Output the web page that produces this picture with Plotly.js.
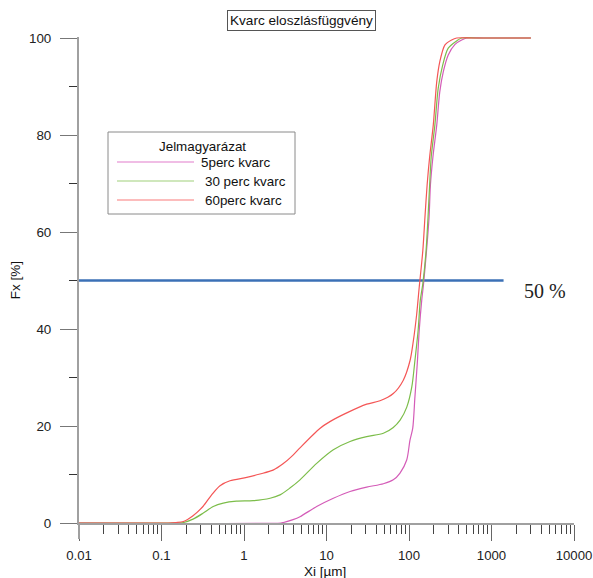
<!DOCTYPE html>
<html>
<head>
<meta charset="utf-8">
<script src="https://cdn.plot.ly/plotly-3.0.1.min.js"></script>
<style>
  html, body { margin: 0; padding: 0; background: #fff; }
  #chart { width: 593px; height: 578px; }
</style>
</head>
<body>
<div id="chart"></div>
<script>
// Particle size distribution (cumulative) of quartz after different milling times
const seriesNames = ['5perc kvarc', '30 perc kvarc', '60perc kvarc'];

// 5 min milling
const x5 = [0.01, 2.8, 3.0, 3.93, 4.77, 7.6, 12.1, 19.3, 30.7, 48.9, 64.5, 77.8, 93.8, 102.8, 110.9, 118, 126, 133, 142.6, 150, 163, 175, 182, 195, 217, 236, 261, 299, 361, 435, 501, 800, 1500, 3000];
const y5 = [0, 0, 0.1, 0.7, 1.3, 3.4, 5.1, 6.5, 7.4, 8.1, 8.9, 10.3, 13.0, 17.1, 19.5, 26, 32.9, 39.7, 45.9, 49.3, 56.1, 63, 69.8, 75.5, 82.1, 88.9, 93.1, 96.5, 98.7, 99.6, 100, 100, 100, 100];

// 30 min milling
const x30 = [0.01, 0.127, 0.184, 0.241, 0.318, 0.424, 0.56, 0.81, 1.29, 2.07, 2.73, 3.6, 4.77, 7.6, 12.1, 19.3, 30.7, 48.9, 64.5, 78, 94, 108, 118, 129, 137, 147, 161, 170, 178, 186, 206, 226, 256, 299, 378, 435, 700, 1500, 3000];
const y30 = [0, 0, 0.1, 0.8, 2.0, 3.4, 4.1, 4.5, 4.6, 5.1, 5.8, 7.2, 8.9, 12.3, 15.1, 16.8, 17.8, 18.5, 19.7, 21.2, 23.9, 28, 33.5, 39.7, 45.9, 49.3, 56.1, 63, 69.8, 75.5, 82.1, 89.6, 94.4, 97.9, 99.4, 100, 100, 100, 100];

// 60 min milling
const x60 = [0.01, 0.12, 0.15, 0.184, 0.241, 0.318, 0.405, 0.512, 0.676, 1.08, 1.56, 2.25, 2.97, 3.93, 4.77, 8.3, 11, 17.6, 30.7, 44.5, 64.5, 85, 103, 113, 124, 133, 147, 156, 166, 178, 197, 217, 236, 273, 329, 378, 600, 1500, 3000];
const y60 = [0, 0, 0.1, 0.3, 1.5, 3.4, 5.8, 7.7, 8.7, 9.4, 10.1, 10.9, 12.2, 14.0, 15.5, 19.5, 20.9, 22.7, 24.5, 25.2, 26.7, 29.4, 33.5, 37.6, 43.1, 48.6, 56.1, 63, 69.8, 75.5, 82.1, 91, 95.1, 98.6, 99.6, 100, 100, 100, 100];

// 50 % reference level
const refLevel = 50;
const refX = [0.01, 1400];

// axis ticks
const xTickVals = [0.01, 0.1, 1, 10, 100, 1000, 10000];
const xTickText = ['0.01', '0.1', '1', '10', '100', '1000', '10000'];
const yTickVals = [0, 20, 40, 60, 80, 100];

const colors = ['#d45cb8', '#7cbd4a', '#f45656'];
const legendColors = ['#e27ccb', '#9fd07a', '#fa7b7b'];

// minor ticks 2..9 within each decade
const xMinor = [];
for (let d = -2; d < 4; d++) {
  for (let m = 2; m <= 9; m++) xMinor.push(m * Math.pow(10, d));
}

// plot area in pixels: x 79..574, y 37..523 (100 % sits at y = 38, leaving room for the 100 % plateau line)
const L = 79, R = 574, T = 37, B = 523;
const yTop = 100 * (B - T) / (B - 38);
const px = p => (p - L) / (R - L);
const py = p => (B - p) / (B - T);

const font = 'Arial, "Liberation Sans", sans-serif';

const curve = (x, y, i) => ({
  x: x, y: y, type: 'scatter', mode: 'lines', name: seriesNames[i],
  line: { color: colors[i], width: 1.2, shape: 'spline', smoothing: 0.8 },
  hoverinfo: 'skip', showlegend: false
});

const traces = [
  { x: refX, y: [refLevel, refLevel], type: 'scatter', mode: 'lines',
    line: { color: '#3b70b6', width: 2.5 }, hoverinfo: 'skip', showlegend: false },
  curve(x5, y5, 0),
  curve(x30, y30, 1),
  curve(x60, y60, 2)
];

const annotations = [
  { text: 'Kvarc eloszlásfüggvény', xref: 'paper', yref: 'paper', x: px(301), y: py(21),
    xanchor: 'center', yanchor: 'middle', showarrow: false,
    font: { family: font, size: 13.6, color: '#111' },
    bordercolor: '#555', borderwidth: 1, borderpad: 2, bgcolor: '#fff' },
  { text: 'Jelmagyarázat', xref: 'paper', yref: 'paper', x: px(202), y: py(146),
    xanchor: 'center', yanchor: 'middle', showarrow: false,
    font: { family: font, size: 13.4, color: '#111' } },
  { text: refLevel + ' %', xref: 'paper', yref: 'paper', x: px(522), y: py(291),
    xanchor: 'left', yanchor: 'middle', showarrow: false,
    font: { family: '"Liberation Serif", "Times New Roman", serif', size: 20, color: '#222' } },
  { text: 'Xi [µm]', xref: 'paper', yref: 'paper', x: px(325), y: py(571),
    xanchor: 'center', yanchor: 'middle', showarrow: false,
    font: { family: font, size: 13.5, color: '#111' } }
];

const legendRows = [162, 181, 200];
const legendTextX = [199, 203, 203];
const shapes = [
  { type: 'rect', xref: 'paper', yref: 'paper', x0: px(108), x1: px(295), y0: py(132), y1: py(214),
    line: { color: '#8a8a8a', width: 1 }, fillcolor: 'rgba(255,255,255,0)' },
  // y axis line continues below zero, as far as the x ticks
  { type: 'line', xref: 'paper', yref: 'paper', x0: 0, x1: 0, y0: 0, y1: py(539),
    line: { color: '#a0a0a0', width: 2 } }
];
seriesNames.forEach((name, i) => {
  shapes.push({ type: 'line', xref: 'paper', yref: 'paper', x0: px(117), x1: px(194),
    y0: py(legendRows[i]), y1: py(legendRows[i]), line: { color: legendColors[i], width: 1.2 } });
  annotations.push({ text: name, xref: 'paper', yref: 'paper', x: px(legendTextX[i]), y: py(legendRows[i]),
    xanchor: 'left', yanchor: 'middle', showarrow: false,
    font: { family: font, size: 13.4, color: '#111' } });
});

const layout = {
  width: 593, height: 578,
  margin: { l: L, r: 593 - R, t: T, b: 578 - B, pad: 0 },
  paper_bgcolor: '#fff', plot_bgcolor: '#fff',
  showlegend: false,
  font: { family: font, size: 13, color: '#222' },
  xaxis: {
    type: 'log', range: [-2, 4], automargin: false,
    showgrid: false, zeroline: false,
    showline: true, linecolor: '#a0a0a0', linewidth: 2,
    tickmode: 'array', tickvals: xTickVals, ticktext: xTickText,
    ticks: 'outside', ticklen: 16, tickwidth: 1, tickcolor: '#666',
    ticklabelstandoff: 3,
    minor: { tickmode: 'array', tickvals: xMinor, ticks: 'outside', ticklen: 9, tickwidth: 1, tickcolor: '#444', showgrid: false },
    tickfont: { family: font, size: 13.2, color: '#222' }
  },
  yaxis: {
    range: [0, yTop], automargin: false,
    showgrid: false, zeroline: false,
    showline: true, linecolor: '#a0a0a0', linewidth: 2,
    tickmode: 'array', tickvals: yTickVals,
    ticks: 'outside', ticklen: 17, tickwidth: 1, tickcolor: '#777',
    ticklabelstandoff: 6,
    minor: { tickmode: 'array', tickvals: [10, 30, 50, 70, 90], ticks: 'outside', ticklen: 8, tickwidth: 1, tickcolor: '#333', showgrid: false },
    tickfont: { family: font, size: 13.4, color: '#222' },
    title: { text: 'Fx [%]', standoff: 5, font: { family: font, size: 13.5, color: '#111' } }
  },
  annotations: annotations,
  shapes: shapes
};

Plotly.newPlot('chart', traces, layout, { staticPlot: true, displayModeBar: false });
</script>
</body>
</html>
